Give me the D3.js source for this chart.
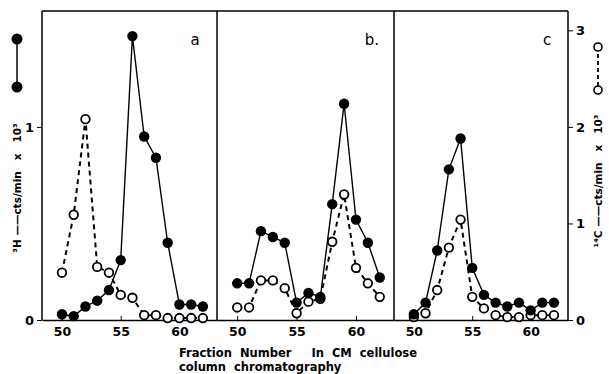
<!DOCTYPE html>
<html>
<head>
<meta charset="utf-8">
<script src="https://cdn.jsdelivr.net/npm/d3@7"></script>
<style>
  body { margin: 0; background: #fff; }
  svg { font-family: "DejaVu Sans", sans-serif; font-weight: bold; }
</style>
</head>
<body>
<svg id="chart" width="609" height="374"></svg>
<script>
// fraction numbers from CM cellulose column
var fractions = [50, 51, 52, 53, 54, 55, 56, 57, 58, 59, 60, 61, 62];

// 3H cts/min x 10^3 (filled circles, left axis)
var h3A = [0.03, 0.02, 0.07, 0.10, 0.155, 0.31, 1.47, 0.95, 0.84, 0.40, 0.08, 0.08, 0.07];
var h3B = [0.19, 0.19, 0.46, 0.43, 0.40, 0.09, 0.14, 0.12, 0.60, 1.12, 0.52, 0.40, 0.22];
var h3C = [0.03, 0.09, 0.36, 0.78, 0.94, 0.27, 0.13, 0.09, 0.07, 0.09, 0.05, 0.09, 0.09];

// 14C cts/min x 10^3 (open circles, right axis)
var c14A = [0.49, 1.09, 2.08, 0.55, 0.49, 0.26, 0.23, 0.05, 0.05, 0.02, 0.02, 0.02, 0.02];
var c14B = [0.13, 0.13, 0.41, 0.41, 0.33, 0.07, 0.19, 0.22, 0.81, 1.30, 0.54, 0.38, 0.24];
var c14C = [0.03, 0.07, 0.31, 0.75, 1.04, 0.24, 0.12, 0.05, 0.03, 0.03, 0.05, 0.05, 0.05];

var panelLabels = ["a", "b.", "c"];
var xTicks = [50, 55, 60];
var leftTicks = [0, 1];
var rightTicks = [0, 1, 2, 3];

var svg = d3.select("#chart");
var plotTop = 11, plotBottom = 320;
var edges = [42, 217, 394, 568];

var yLeft = d3.scaleLinear().domain([0, 1.6]).range([plotBottom, plotTop]);
var yRight = d3.scaleLinear().domain([0, 3.2]).range([plotBottom, plotTop]);

var panels = [
  {h: h3A, c: c14A},
  {h: h3B, c: c14B},
  {h: h3C, c: c14C}
];

// frame
svg.append("line").attr("x1", edges[0]).attr("x2", edges[3])
  .attr("y1", plotTop).attr("y2", plotTop).attr("stroke", "#000").attr("stroke-width", 1.5);
edges.forEach(function(x) {
  svg.append("line").attr("x1", x).attr("x2", x).attr("y1", plotTop).attr("y2", plotBottom)
    .attr("stroke", "#000").attr("stroke-width", 1.5);
});

panels.forEach(function(p, i) {
  var x = d3.scaleLinear().domain([48.3, 63.2]).range([edges[i], edges[i + 1]]);
  var g = svg.append("g");

  var ax = g.append("g").attr("transform", "translate(0," + plotBottom + ")")
    .call(d3.axisBottom(x).tickValues(xTicks).tickSizeInner(-4).tickSizeOuter(0).tickPadding(7));
  ax.select(".domain").attr("stroke-width", 1.5);
  ax.selectAll("text").attr("font-size", 12.5).attr("font-family", "DejaVu Sans").attr("font-weight", "bold");

  var hLine = d3.line().x(function(d, j) { return x(fractions[j]); }).y(function(d) { return yLeft(d); });
  var cLine = d3.line().x(function(d, j) { return x(fractions[j]); }).y(function(d) { return yRight(d); });

  g.append("path").datum(p.c).attr("d", cLine).attr("fill", "none")
    .attr("stroke", "#000").attr("stroke-width", 2).attr("stroke-dasharray", "5,4");
  g.append("path").datum(p.h).attr("d", hLine).attr("fill", "none")
    .attr("stroke", "#000").attr("stroke-width", 1.4);

  g.selectAll(".open").data(p.c).enter().append("circle")
    .attr("cx", function(d, j) { return x(fractions[j]); })
    .attr("cy", function(d) { return yRight(d); })
    .attr("r", 4.3).attr("fill", "#fff").attr("stroke", "#000").attr("stroke-width", 1.8);
  g.selectAll(".filled").data(p.h).enter().append("circle")
    .attr("cx", function(d, j) { return x(fractions[j]); })
    .attr("cy", function(d) { return yLeft(d); })
    .attr("r", 5.2).attr("fill", "#000");

  g.append("text").attr("x", [195, 372, 547][i]).attr("y", 45)
    .attr("text-anchor", "middle").attr("font-size", 15).attr("font-weight", "normal")
    .attr("font-family", "DejaVu Sans")
    .text(panelLabels[i]);
});

// left axis
var la = svg.append("g").attr("transform", "translate(" + edges[0] + ",0)")
  .call(d3.axisLeft(yLeft).tickValues(leftTicks).tickFormat(d3.format("d")).tickSizeOuter(0).tickSize(5).tickPadding(3));
la.select(".domain").remove();
la.selectAll("text").attr("font-size", 13).attr("font-family", "DejaVu Sans").attr("font-weight", "bold");

// right axis
var ra = svg.append("g").attr("transform", "translate(" + edges[3] + ",0)")
  .call(d3.axisRight(yRight).tickValues(rightTicks).tickFormat(d3.format("d")).tickSizeOuter(0).tickSize(5).tickPadding(3));
ra.select(".domain").remove();
ra.selectAll("text").attr("font-size", 13).attr("font-family", "DejaVu Sans").attr("font-weight", "bold");

// legend keys
svg.append("line").attr("x1", 17).attr("x2", 17).attr("y1", 39).attr("y2", 87)
  .attr("stroke", "#000").attr("stroke-width", 1.5);
[39, 87].forEach(function(y) {
  svg.append("circle").attr("cx", 17).attr("cy", y).attr("r", 5.5).attr("fill", "#000");
});
svg.append("line").attr("x1", 598).attr("x2", 598).attr("y1", 47).attr("y2", 90)
  .attr("stroke", "#000").attr("stroke-width", 1.8).attr("stroke-dasharray", "4,3");
[47, 90].forEach(function(y) {
  svg.append("circle").attr("cx", 598).attr("cy", y).attr("r", 4).attr("fill", "#fff")
    .attr("stroke", "#000").attr("stroke-width", 1.6);
});

// axis titles
svg.append("text").attr("transform", "translate(21,188) rotate(-90)")
  .attr("text-anchor", "middle").attr("font-size", 10.5).attr("xml:space", "preserve")
  .text("\u00B3H \u2014\u2014cts/min   x   10\u00B3");
svg.append("text").attr("transform", "translate(602,181) rotate(-90)")
  .attr("text-anchor", "middle").attr("font-size", 10.5).attr("xml:space", "preserve")
  .text("\u00B9\u2074C \u2014\u2014cts/min   x   10\u00B3");

// x title
svg.append("text").attr("x", 179).attr("y", 357).attr("font-size", 11.5)
  .attr("xml:space", "preserve")
  .text("Fraction  Number     In  CM  cellulose");
svg.append("text").attr("x", 179).attr("y", 371).attr("font-size", 11.5)
  .attr("xml:space", "preserve")
  .text("column  chromatography");
</script>
</body>
</html>
